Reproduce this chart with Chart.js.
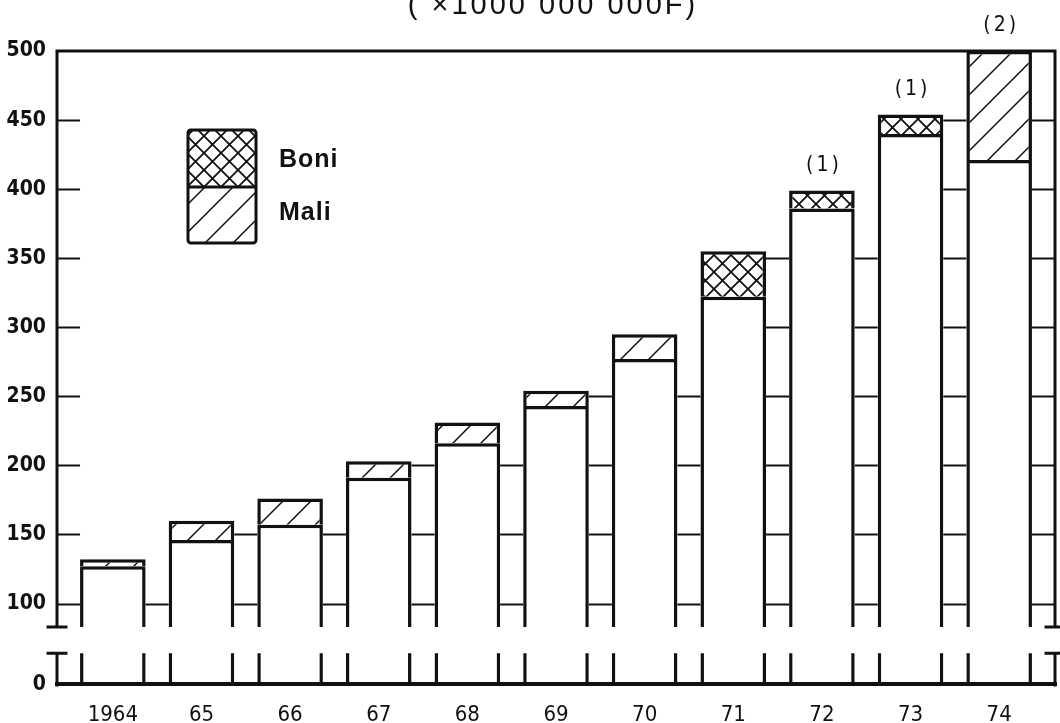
<!DOCTYPE html>
<html>
<head>
<meta charset="utf-8">
<title>Budget 1964-74</title>
<script src="https://cdn.jsdelivr.net/npm/chart.js@4.4.1/dist/chart.umd.min.js"></script>
<style>
    html, body { margin: 0; padding: 0; background: #fff; }
    canvas { display: block; }
</style>
</head>
<body>
<canvas id="budgetChart" width="1060" height="723"></canvas>
<script>
// Data (x 1000 000 000 F)
const years = [1964, 1965, 1966, 1967, 1968, 1969, 1970, 1971, 1972, 1973, 1974];
const yearLabels = ['1964', '65', '66', '67', '68', '69', '70', '71', '72', '73', '74'];
const baseValues = [127, 146, 157, 191, 216, 243, 277, 322, 386, 440, 421];
const maliValues = [5, 14, 19, 12, 15, 11, 18, 0, 0, 0, 79];
const boniValues = [0, 0, 0, 0, 0, 0, 0, 33, 13, 14, 0];
const notes = ['', '', '', '', '', '', '', '', '(1)', '(1)', '(2)'];
const yTicks = [0, 100, 150, 200, 250, 300, 350, 400, 450, 500];
const rungValues = [100, 150, 200, 250, 300, 350, 400, 450];

const INK = '#111';
const NARROW = "'DejaVu Sans Condensed', 'DejaVu Sans', sans-serif";
const SANS = "'Liberation Sans', Arial, sans-serif";

// axe vertical coupé entre 23 et 83
const BREAK_LOW = 23, BREAK_HIGH = 83, BREAK_GAP = 19;

function squash(v) {
    if (v <= BREAK_LOW) return v;
    if (v >= BREAK_HIGH) return v - (BREAK_HIGH - BREAK_LOW) + BREAK_GAP;
    return BREAK_LOW + (v - BREAK_LOW) / (BREAK_HIGH - BREAK_LOW) * BREAK_GAP;
}
function unsquash(u) {
    if (u <= BREAK_LOW) return u;
    if (u >= BREAK_LOW + BREAK_GAP) return u + (BREAK_HIGH - BREAK_LOW) - BREAK_GAP;
    return BREAK_LOW + (u - BREAK_LOW) / BREAK_GAP * (BREAK_HIGH - BREAK_LOW);
}

class BrokenScale extends Chart.LinearScale {
    getPixelForValue(value) {
        if (value === null || value === undefined) return NaN;
        const lo = squash(this.min), hi = squash(this.max);
        return this.getPixelForDecimal((squash(value) - lo) / (hi - lo));
    }
    getValueForPixel(pixel) {
        const lo = squash(this.min), hi = squash(this.max);
        return unsquash(lo + this.getDecimalForPixel(pixel) * (hi - lo));
    }
}
BrokenScale.id = 'broken';
BrokenScale.defaults = {};
Chart.register(BrokenScale);

const canvas = document.getElementById('budgetChart');
const ctx = canvas.getContext('2d');

function hatch(size, cross) {
    const tile = document.createElement('canvas');
    tile.width = tile.height = size;
    const g = tile.getContext('2d');
    g.fillStyle = '#fff';
    g.fillRect(0, 0, size, size);
    g.strokeStyle = INK;
    g.lineWidth = cross ? 1.8 : 1.5;
    g.beginPath();
    g.moveTo(0, size); g.lineTo(size, 0);
    g.moveTo(-size / 2, size / 2); g.lineTo(size / 2, -size / 2);
    g.moveTo(size / 2, size * 1.5); g.lineTo(size * 1.5, size / 2);
    if (cross) {
        g.moveTo(0, 0); g.lineTo(size, size);
        g.moveTo(-size / 2, size / 2); g.lineTo(size / 2, size * 1.5);
        g.moveTo(size / 2, -size / 2); g.lineTo(size * 1.5, size / 2);
    }
    g.stroke();
    return ctx.createPattern(tile, 'repeat');
}

const maliPattern = hatch(28, false);
const boniPattern = hatch(17, true);

function totalAt(i) {
    return baseValues[i] + maliValues[i] + boniValues[i];
}

// petits traits de grille visibles seulement entre les barres
const rungPlugin = {
    id: 'rungs',
    beforeDatasetsDraw(chart) {
        const { ctx, chartArea, scales: { y } } = chart;
        const bars = chart.getDatasetMeta(0).data;
        ctx.save();
        ctx.strokeStyle = INK;
        ctx.lineWidth = 2;
        for (let g = 0; g <= bars.length; g++) {
            const left = g === 0 ? chartArea.left : bars[g - 1].x + bars[g - 1].width / 2;
            const right = g === bars.length ? chartArea.right : bars[g].x - bars[g].width / 2;
            const limit = (g === 0 || g === bars.length) ? Infinity : Math.min(totalAt(g - 1), totalAt(g));
            rungValues.forEach(v => {
                if (v >= limit) return;
                const py = Math.round(y.getPixelForValue(v)) + 0.5;
                ctx.beginPath();
                ctx.moveTo(left, py);
                ctx.lineTo(right, py);
                ctx.stroke();
            });
        }
        ctx.restore();
    }
};

const framePlugin = {
    id: 'frame',
    afterDatasetsDraw(chart) {
        const { ctx, chartArea: a, scales: { y } } = chart;
        const yHi = y.getPixelForValue(BREAK_HIGH);
        const yLo = y.getPixelForValue(BREAK_LOW);
        ctx.save();
        // coupure
        ctx.fillStyle = '#fff';
        ctx.fillRect(a.left, yHi, a.right - a.left, yLo - yHi);
        ctx.strokeStyle = INK;
        ctx.lineCap = 'square';
        ctx.lineWidth = 3;
        ctx.beginPath();
        ctx.moveTo(a.left, a.top); ctx.lineTo(a.right, a.top);
        [a.left, a.right].forEach(x => {
            ctx.moveTo(x, a.top); ctx.lineTo(x, yHi);
            ctx.moveTo(x - 9, yHi); ctx.lineTo(x + 9, yHi);
            ctx.moveTo(x - 9, yLo); ctx.lineTo(x + 9, yLo);
            ctx.moveTo(x, yLo); ctx.lineTo(x, a.bottom);
        });
        ctx.stroke();
        ctx.lineWidth = 4;
        ctx.beginPath();
        ctx.moveTo(a.left, a.bottom - 1); ctx.lineTo(a.right, a.bottom - 1);
        ctx.stroke();
        ctx.restore();
    },
    afterDraw(chart) {
        const { ctx, scales: { x, y } } = chart;
        ctx.save();
        ctx.fillStyle = INK;
        ctx.textAlign = 'center';
        ctx.textBaseline = 'middle';
        // renvois (1) (2)
        ctx.font = '21px ' + NARROW;
        ctx.letterSpacing = '3px';
        notes.forEach((n, i) => {
            if (!n) return;
            ctx.fillText(n, x.getPixelForValue(years[i]) + 2, y.getPixelForValue(totalAt(i)) - 25);
        });
        // unité
        ctx.font = '29px ' + SANS;
        ctx.letterSpacing = '3px';
        ctx.textBaseline = 'alphabetic';
        ctx.fillText('( \u00d71000 000 000F)', 553, 14);

        // légende
        const bx = 188, bw = 68, top = 130, mid = 187, bottom = 243;
        ctx.fillStyle = boniPattern;
        ctx.fillRect(bx, top, bw, mid - top);
        ctx.fillStyle = maliPattern;
        ctx.fillRect(bx, mid, bw, bottom - mid);
        ctx.strokeStyle = INK;
        ctx.lineWidth = 3;
        ctx.beginPath();
        ctx.roundRect(bx, top, bw, bottom - top, 3);
        ctx.moveTo(bx, mid); ctx.lineTo(bx + bw, mid);
        ctx.stroke();
        ctx.fillStyle = INK;
        ctx.font = 'bold 25px ' + SANS;
        ctx.letterSpacing = '1px';
        ctx.textAlign = 'left';
        ctx.textBaseline = 'middle';
        ctx.fillText(chart.data.datasets[2].label, 279, 160);
        ctx.fillText(chart.data.datasets[1].label, 279, 213);
        ctx.restore();
    }
};

new Chart(ctx, {
    type: 'bar',
    data: {
        labels: years,
        datasets: [
            { label: 'Budget', data: baseValues, backgroundColor: '#fff' },
            { label: 'Mali', data: maliValues, backgroundColor: maliPattern },
            { label: 'Boni', data: boniValues, backgroundColor: boniPattern }
        ]
    },
    options: {
        responsive: false,
        animation: false,
        events: [],
        layout: { padding: { top: 51, right: 5, left: 0, bottom: 0 } },
        datasets: {
            bar: {
                borderColor: INK,
                borderWidth: 3.5,
                barPercentage: 0.74,
                categoryPercentage: 1.0
            }
        },
        plugins: {
            legend: { display: false },
            tooltip: { enabled: false }
        },
        scales: {
            x: {
                type: 'linear',
                stacked: true,
                offset: false,
                min: 1963.37,
                max: 1974.63,
                grid: { display: false, drawTicks: false },
                border: { display: false },
                afterBuildTicks: s => { s.ticks = years.map(v => ({ value: v })); },
                afterFit: s => { s.height = 38; },
                ticks: {
                    autoSkip: false,
                    maxRotation: 0,
                    padding: 17,
                    color: INK,
                    font: { family: NARROW, size: 22 },
                    callback: (v, i) => yearLabels[i]
                }
            },
            y: {
                type: 'broken',
                stacked: true,
                min: 0,
                max: 500,
                grid: { display: false, drawTicks: false },
                border: { display: false },
                afterBuildTicks: s => { s.ticks = yTicks.map(v => ({ value: v })); },
                afterFit: s => { s.width = 57; },
                ticks: {
                    padding: 11,
                    color: INK,
                    font: { family: NARROW, size: 21, weight: 'bold' }
                }
            }
        }
    },
    plugins: [rungPlugin, framePlugin]
});
</script>
</body>
</html>
